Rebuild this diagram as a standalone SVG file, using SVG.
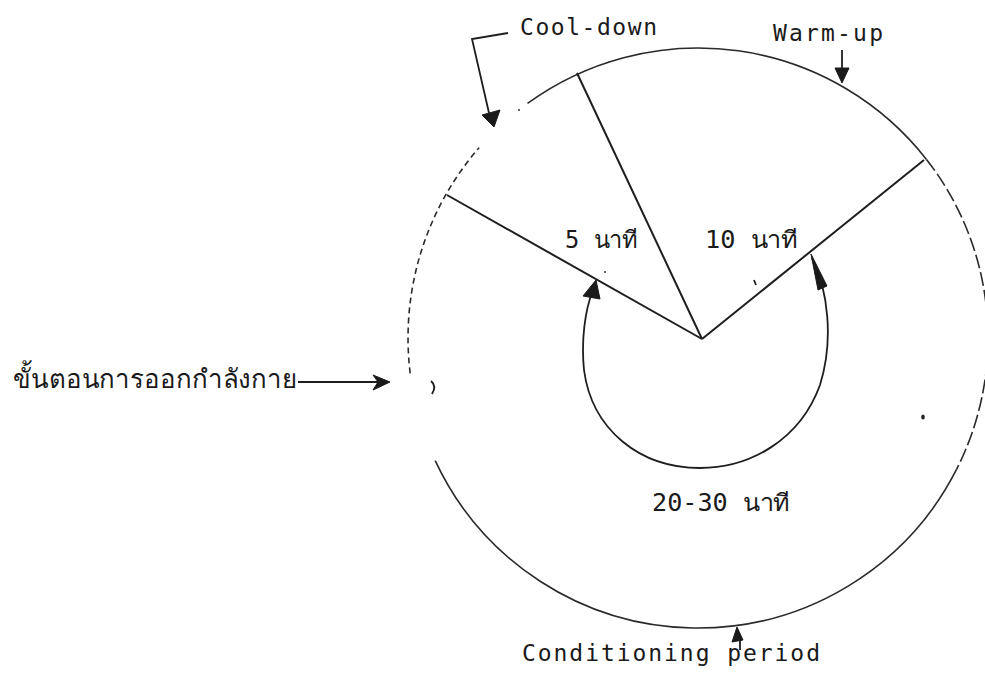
<svg xmlns="http://www.w3.org/2000/svg" width="985" height="674" viewBox="0 0 985 674">
<style>
  .circ { fill: none; stroke: #2a2a2a; stroke-width: 1.6; }
  .dash { stroke-dasharray: 14 4; }
  .dot { stroke-dasharray: 6 4; }
  .spoke { stroke: #1e1e1e; stroke-width: 2; fill: none; }
  .ln { stroke: #1e1e1e; stroke-width: 1.8; fill: none; }
  .head { fill: #1a1a1a; stroke: #1a1a1a; stroke-width: 1; stroke-linejoin: round; }
  .lbl { font-family: "DejaVu Sans Mono", "Liberation Mono", monospace; font-size: 23px; fill: #1a1a1a; }
  .th { font-family: "DejaVu Sans Mono", "Noto Sans", "DejaVu Sans", sans-serif; font-size: 24px; fill: #1a1a1a; }
  .thl { font-size: 26px; }
</style>
<rect width="985" height="674" fill="#ffffff"/>

<g id="cycle-circle">
  <path class="circ" d="M 527.5 103.4 A 290 290 0 0 1 926.5 159.4"/>
  <path class="circ dash" d="M 926.5 159.4 A 290 290 0 0 1 956.4 469.7"/>
  <path class="circ" d="M 956.4 469.7 A 290 290 0 0 1 435.2 460.6"/>
  <path class="circ dot" d="M 410.2 373.3 A 290 290 0 0 1 479.1 147.7"/>
</g>

<g id="spokes">
  <line class="spoke" x1="702" y1="339" x2="577" y2="73"/>
  <line class="spoke" x1="702" y1="339" x2="447" y2="195"/>
  <line class="spoke" x1="702" y1="339" x2="924" y2="160"/>
</g>

<g id="conditioning-arc">
  <path class="ln" d="M 812 258 C 828 290, 834 340, 820 385 C 800 440, 750 468, 700 468 C 640 468, 592 430, 584 370 C 581 340, 585 310, 593 290"/>
  <polygon class="head" points="596,280 583,296 600,299"/>
  <polygon class="head" points="811,254 827,286 818,290"/>
</g>

<g id="label-cooldown">
  <text class="lbl" x="520" y="35" textLength="137" lengthAdjust="spacing">Cool-down</text>
  <polyline class="ln" points="508,33 472,39 489,113"/>
  <polygon class="head" points="494,127 482,115 500,110"/>
</g>

<g id="label-warmup">
  <text class="lbl" x="773" y="41" textLength="110" lengthAdjust="spacing">Warm-up</text>
  <line class="ln" x1="842" y1="50" x2="842" y2="70"/>
  <polygon class="head" points="835,68 849,68 842,83"/>
</g>

<g id="label-conditioning">
  <text class="lbl" x="522" y="661" textLength="298" lengthAdjust="spacing">Conditioning period</text>
  <line class="ln" x1="740" y1="638" x2="740" y2="650"/>
  <polygon class="head" points="737,627 732,642 743,640"/>
</g>

<g id="label-phases">
  <text class="th thl" x="13" y="388" textLength="284" lengthAdjust="spacingAndGlyphs">ขั้นตอนการออกกำลังกาย</text>
  <line class="ln" x1="298" y1="382" x2="380" y2="382"/>
  <polygon class="head" points="390,382 373,375 378,382 373,390"/>
</g>

<g id="durations">
  <text class="th" x="565" y="248" textLength="73" lengthAdjust="spacingAndGlyphs">5 นาที</text>
  <text class="th" x="705" y="248" textLength="93" lengthAdjust="spacingAndGlyphs">10 นาที</text>
  <text class="th" x="652" y="511" textLength="138" lengthAdjust="spacingAndGlyphs">20-30 นาที</text>
</g>

<g id="marks">
  <path class="ln" d="M 431 381 Q 437 386 432 394" stroke-width="1.4"/>
  <circle cx="519" cy="110" r="1" fill="#333"/>
  <circle cx="605" cy="272" r="1" fill="#333"/>
  <line class="ln" x1="754" y1="280" x2="756" y2="285" stroke-width="1.2"/>
  <ellipse cx="923" cy="417" rx="1.8" ry="2.5" fill="#222"/>
</g>
</svg>
